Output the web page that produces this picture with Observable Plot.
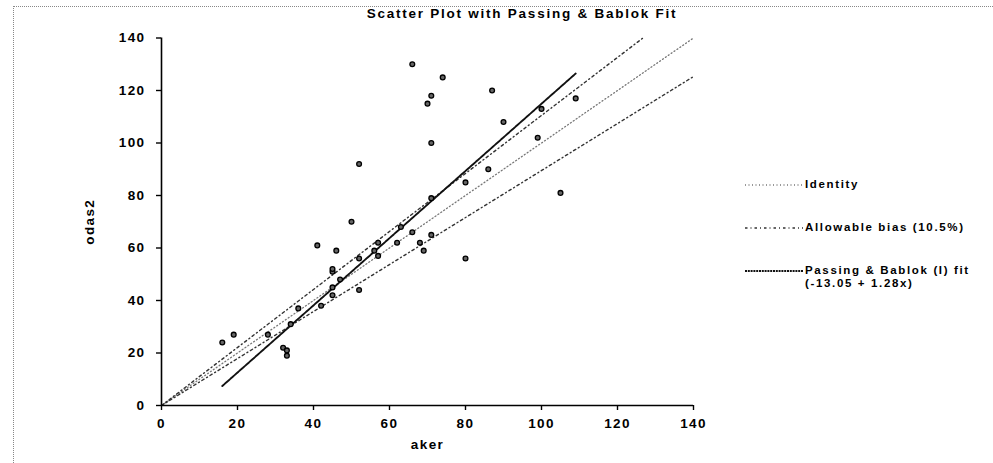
<!DOCTYPE html>
<html>
<head>
<meta charset="utf-8">
<script src="https://cdn.jsdelivr.net/npm/d3@7"></script>
<script src="https://cdn.jsdelivr.net/npm/@observablehq/plot@0.6"></script>
<style>
  html, body { margin: 0; padding: 0; background: #fff; }
  #wrap { position: relative; width: 993px; height: 463px; overflow: hidden; font-family: "Liberation Sans", Arial, sans-serif; }
  #frame { position: absolute; left: 13px; top: 6px; right: -2px; bottom: -2px; border-top: 1px dotted #888; border-left: 1px dotted #888; }
  #title { position: absolute; left: 0; width: 1044px; top: 6px; text-align: center; font-weight: bold; font-size: 13.5px; letter-spacing: 1.75px; color: #000; }
  #legend { position: absolute; left: 744px; top: 178px; font-weight: bold; font-size: 11.5px; letter-spacing: 1.65px; color: #000; }
  .item { position: absolute; left: 0; white-space: nowrap; }
  .item svg { position: absolute; left: 0; top: 4px; }
  .item span { position: absolute; left: 61px; top: 0; line-height: 13px; }
</style>
</head>
<body>
<div id="wrap">
  <div id="frame"></div>
  <div id="chart"></div>
  <div id="title"></div>
  <div id="legend"></div>
</div>
<script>
// ---- data ----
const titleText = "Scatter Plot with Passing & Bablok Fit";
const xLabel = "aker";
const yLabel = "odas2";
const xTicks = [0, 20, 40, 60, 80, 100, 120, 140];
const yTicks = [0, 20, 40, 60, 80, 100, 120, 140];
const akerValues  = [16, 19, 28, 32, 33, 33, 34, 36, 41, 42, 45, 45, 45, 45, 46, 47, 50, 52, 52, 52, 56, 57, 57, 62, 63, 66, 66, 68, 69, 70, 71, 71, 71, 71, 74, 80, 80, 86, 87, 90, 99, 100, 105, 109];
const odas2Values = [24, 27, 27, 22, 21, 19, 31, 37, 61, 38, 42, 45, 51, 52, 59, 48, 70, 44, 56, 92, 59, 57, 62, 62, 68, 66, 130, 62, 59, 115, 65, 79, 100, 118, 125, 85, 56, 90, 120, 108, 102, 113, 81, 117];
const fitIntercept = -13.05;
const fitSlope = 1.28;
const allowableBias = 0.105;
const legendLabels = ["Identity", "Allowable bias (10.5%)", "Passing & Bablok (I) fit", "(-13.05 + 1.28x)"];

const points = akerValues.map((x, i) => ({x, y: odas2Values[i]}));
const maxV = 140;
const xMin = d3.min(akerValues), xMax = d3.max(akerValues);
const identity = [{x: 0, y: 0}, {x: maxV, y: maxV}];
const biasUp = [{x: 0, y: 0}, {x: maxV / (1 + allowableBias), y: maxV}];
const biasLow = [{x: 0, y: 0}, {x: maxV, y: maxV * (1 - allowableBias)}];
const fit = [{x: xMin, y: fitIntercept + fitSlope * xMin}, {x: xMax, y: fitIntercept + fitSlope * xMax}];

const styles = {
  identity: {stroke: "#777", strokeWidth: 1.3, strokeDasharray: "1,2.5"},
  bias: {stroke: "#333", strokeWidth: 1.4, strokeDasharray: "2.5,3,1,3"},
  fit: {stroke: "#111", strokeWidth: 1.9, strokeDasharray: "2,0.8"}
};

const chart = Plot.plot({
  width: 993,
  height: 463,
  marginLeft: 161,
  marginRight: 300,
  marginTop: 37.5,
  marginBottom: 58,
  style: {fontFamily: "Liberation Sans, Arial, sans-serif", fontWeight: "bold", fontSize: "13.5px", color: "#000", background: "transparent", letterSpacing: "1.4px"},
  x: {domain: [0, 140]},
  y: {domain: [0, 140]},
  marks: [
    Plot.line(identity, {x: "x", y: "y", ...styles.identity}),
    Plot.line(biasUp, {x: "x", y: "y", ...styles.bias}),
    Plot.line(biasLow, {x: "x", y: "y", ...styles.bias}),
    Plot.line(fit, {x: "x", y: "y", ...styles.fit}),
    Plot.dot(points, {x: "x", y: "y", r: 2.4, fill: "#666", stroke: "#000", strokeWidth: 1.3}),
    Plot.ruleX([0], {stroke: "#000", strokeWidth: 1.6}),
    Plot.ruleY([0], {stroke: "#000", strokeWidth: 1.6}),
    Plot.axisX({ticks: xTicks, tickSize: 5, tickPadding: 8, strokeWidth: 1.4, label: xLabel, labelAnchor: "center", labelOffset: 43, labelArrow: "none"}),
    Plot.axisY({ticks: yTicks, tickSize: 5, tickPadding: 11, strokeWidth: 1.4, label: yLabel, labelAnchor: "center", labelOffset: 77, labelArrow: "none"})
  ]
});
document.getElementById("chart").appendChild(chart);
document.getElementById("title").textContent = titleText;

// legend
const legend = document.getElementById("legend");
const items = [
  {style: styles.identity, label: legendLabels[0], top: 0},
  {style: styles.bias, label: legendLabels[1], top: 43},
  {style: styles.fit, label: legendLabels[2], label2: legendLabels[3], top: 86}
];
for (const it of items) {
  const div = document.createElement("div");
  div.className = "item";
  div.style.top = it.top + "px";
  const svg = d3.create("svg").attr("width", 60).attr("height", 6);
  svg.append("line").attr("x1", 1).attr("x2", 59).attr("y1", 3).attr("y2", 3)
    .attr("stroke", it.style.stroke).attr("stroke-width", it.style.strokeWidth)
    .attr("stroke-dasharray", it.style.strokeDasharray);
  div.appendChild(svg.node());
  const span = document.createElement("span");
  span.textContent = it.label;
  if (it.label2) {
    span.appendChild(document.createElement("br"));
    span.appendChild(document.createTextNode(it.label2));
  }
  div.appendChild(span);
  legend.appendChild(div);
}
</script>
</body>
</html>
